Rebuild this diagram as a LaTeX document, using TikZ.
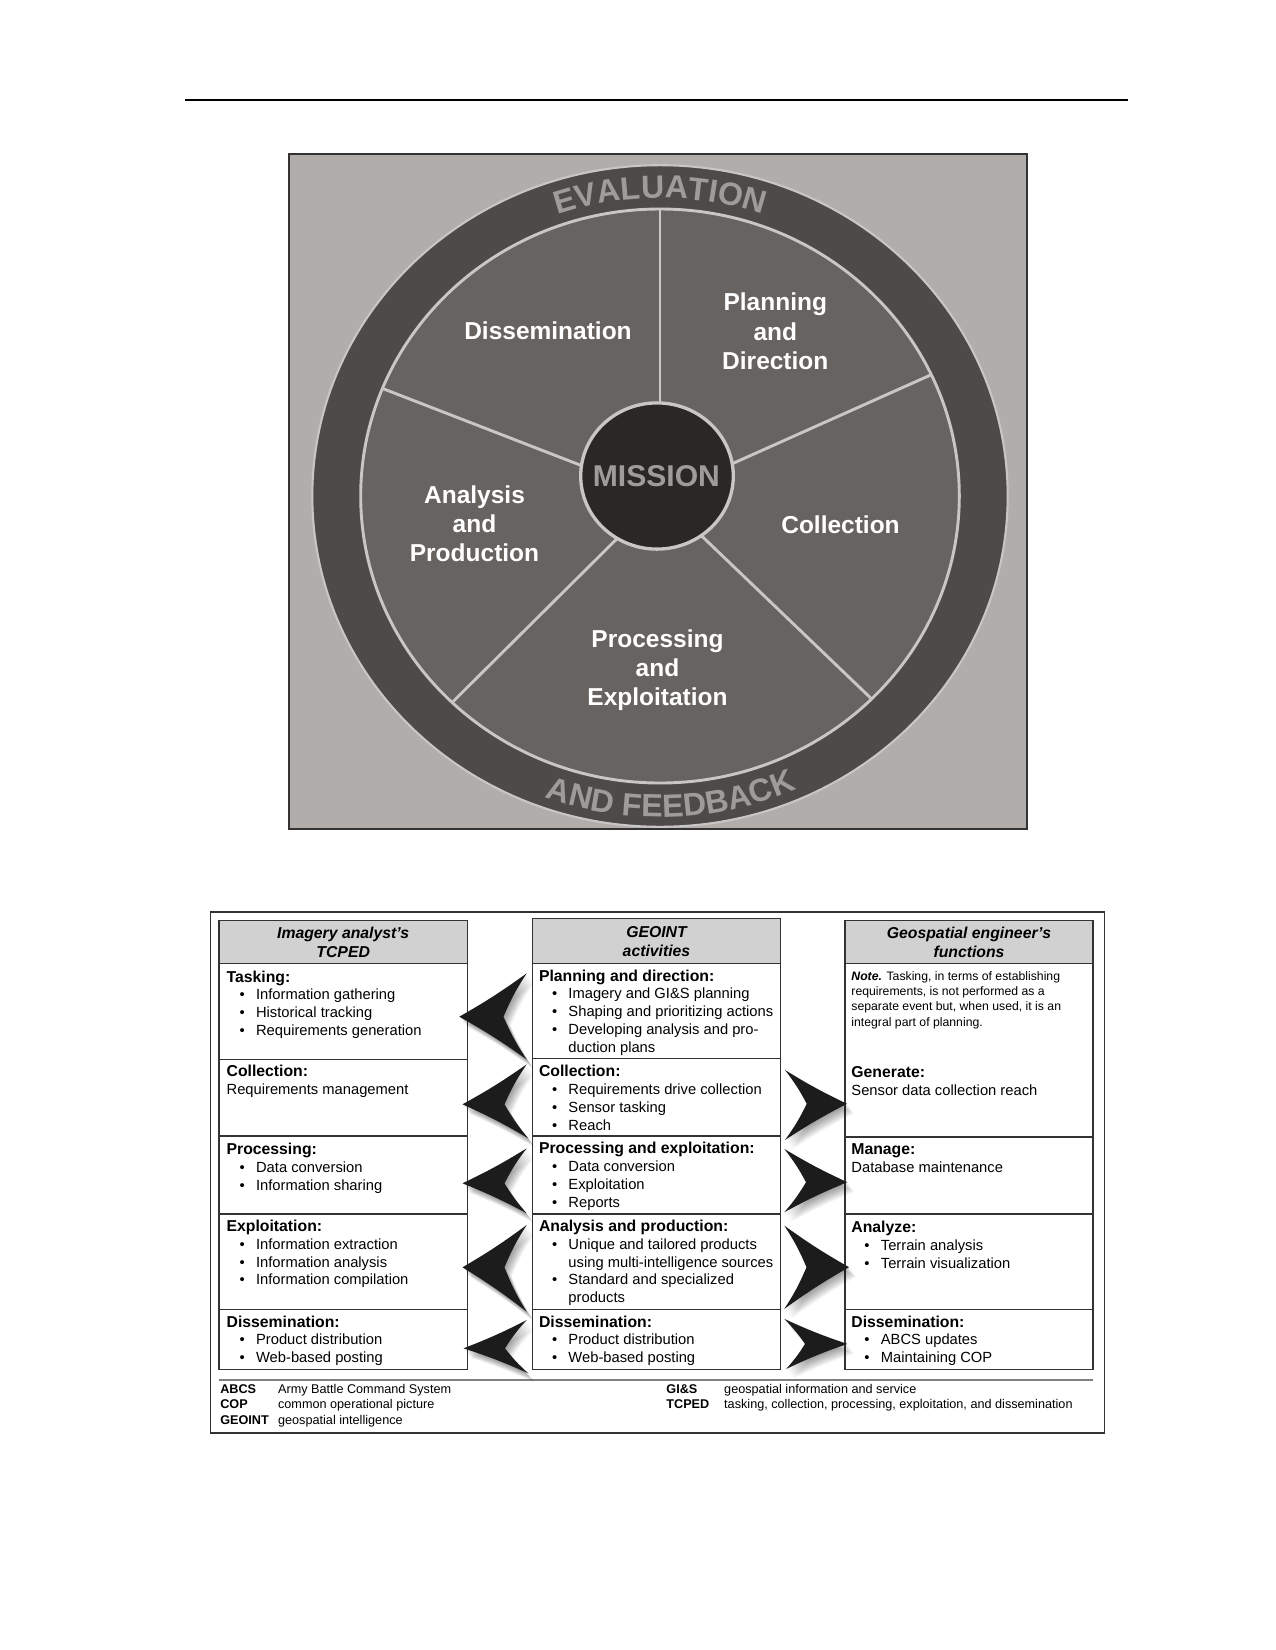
\documentclass[tikz,border=0pt]{standalone}
\usepackage{fontspec}
\setmainfont{Liberation Sans}
\usetikzlibrary{decorations.text,calc}
\definecolor{bgrect}{HTML}{B0ADAB}
\definecolor{ringc}{HTML}{4E4A49}
\definecolor{piec}{HTML}{676361}
\definecolor{missc}{HTML}{2A2727}
\definecolor{lightl}{HTML}{C9C7C6}
\definecolor{arctext}{HTML}{9E9B9A}
\definecolor{hdrfill}{HTML}{D2D1D1}
\definecolor{boxline}{HTML}{333333}
\definecolor{arrowc}{HTML}{1C1C1C}
\newcommand\arcfont{\fontsize{15.5}{16}\selectfont\bfseries}
\newcommand\ttl[1]{{\fontsize{7.6}{8.6}\selectfont\bfseries #1}}
\newcommand\bl{\hspace*{6.3pt}\makebox[7.9pt][l]{•}}
\newcommand\cont{\hspace*{14.2pt}}
\newcommand\cellbox[1]{\parbox[t]{128pt}{\fontsize{7.1}{8.6}\selectfont\raggedright #1}}
\newcommand\chev[4]{%
  \foreach \s in {1,...,12}{%
    \fill[black, opacity=0.035, shift={(0.6*\s,-0.8*\s)}] (#1) to[bend right=3] (#2) to[bend right=5] (#3) to[bend right=5] (#4) to[bend right=3] (#1) -- cycle;}
  \fill[arrowc] (#1) to[bend right=3] (#2) to[bend right=5] (#3) to[bend right=5] (#4) to[bend right=3] (#1) -- cycle;}
\tikzset{
  lab/.style={text=white, font=\fontsize{11.8}{14.1}\selectfont\bfseries, align=center, inner sep=0},
  hdr/.style={font=\fontsize{7.6}{9.3}\selectfont\bfseries\itshape, align=center, inner sep=0},
  cell/.style={anchor=base west, inner sep=0},
  leg/.style={anchor=base west, inner sep=0, font=\fontsize{6.1}{7.6}\selectfont},
  colbox/.style={draw=boxline, line width=0.75pt},
  hdrbox/.style={fill=hdrfill, draw=boxline, line width=0.75pt},
}
\begin{document}
\begin{tikzpicture}[x=0.169333mm, y=0.169333mm]
\useasboundingbox (0,0) rectangle (1275,-1650);
\fill[white] (0,0) rectangle (1275,-1650);
% top rule
\draw[line width=0.9pt] (185,-100) -- (1128,-100);
% cycle figure
\filldraw[fill=bgrect, draw=boxline, line width=0.8pt] (289,-154) rectangle (1027,-829);
\coordinate (C) at (660,-496);
\filldraw[fill=ringc, draw=lightl, line width=1pt] (C) ellipse [x radius=347.7, y radius=330.8];
\filldraw[fill=piec, draw=lightl, line width=1.4pt] (C) ellipse [x radius=299.3, y radius=287];
\foreach \a in {90,25,-45,-134,158}
  \draw[lightl, line width=1.4pt] (C) -- ($(C)+(\a:299.3 and 287)$);
\filldraw[fill=missc, draw=lightl, line width=1.6pt] (657,-476) ellipse [x radius=76.3, y radius=73.1];
\node[text=arctext, font=\fontsize{14.5}{15}\selectfont\bfseries, inner sep=0] (mission) at (656.4,-476.6) {MISSION};
\node[lab] (dis) at (548,-330.3) {Dissemination};
\node[lab] (pla) at (775.3,-331.4) {Planning\\and\\Direction};
\node[lab] (col) at (840.5,-525) {Collection};
\node[lab] (ana) at (474.5,-523.9) {Analysis\\and\\Production};
\node[lab] (pro) at (657.5,-670.1) {Processing\\and\\Exploitation};
\path[decorate, decoration={text along path, text align=center, text color=arctext, text={|\arcfont|EVALUATION}}]
  ($(C)+(130:313 and 298)$) arc[start angle=130, end angle=50, x radius=313, y radius=298];
\path[decorate, decoration={text along path, text align=center, text color=arctext, text={|\arcfont|AND FEEDBACK}}]
  ($(C)+(232:337 and 321)$) arc[start angle=232, end angle=312, x radius=337, y radius=321];

% table frame
\draw[colbox] (210.4,-912) rectangle (1104.6,-1432.8);
% left column
\draw[hdrbox] (218.8,-920.5) rectangle (467.5,-963.6);
\draw[colbox] (218.8,-963.6) rectangle (467.5,-1369.7);
\foreach \yy in {1059.4,1136.2,1214,1309.7} \draw[colbox] (218.8,-\yy) -- (467.5,-\yy);
% middle column
\draw[hdrbox] (532.5,-918.5) rectangle (780.6,-963.6);
\draw[colbox] (532.5,-963.6) rectangle (780.6,-1369.7);
\foreach \yy in {1058.3,1136.2,1214,1309.7} \draw[colbox] (532.5,-\yy) -- (780.6,-\yy);
% right column
\draw[hdrbox] (844.8,-920.5) rectangle (1093,-963.6);
\draw[colbox] (844.8,-963.6) rectangle (1093,-1369.7);
\foreach \yy in {1137.2,1214,1309.7} \draw[colbox] (844.8,-\yy) -- (1093,-\yy);
% legend rule
\draw[gray, line width=0.5pt] (218.8,-1380) -- (1093,-1380);

% chevrons pointing left
\chev{459.3,-1016.7}{526.7,-973.3}{503.5,-1016.7}{526.7,-1059.5}
\chev{462.5,-1104.3}{526.7,-1064.3}{504.5,-1104.3}{528.3,-1138.3}
\chev{462.5,-1183.3}{526.7,-1148.3}{504.5,-1183.3}{526.7,-1213.3}
\chev{462.5,-1267.3}{526.7,-1225}{504.5,-1267.3}{526.7,-1311.7}
\chev{463.5,-1348.3}{526.7,-1320}{505,-1348.3}{528.3,-1373.3}
% chevrons pointing right
\chev{847,-1103.8}{785,-1140}{806.7,-1103.8}{785,-1070}
\chev{847.3,-1182.2}{784.3,-1212.2}{806,-1182.2}{784.3,-1148.9}
\chev{849,-1267.2}{784.3,-1308.9}{806.5,-1267.2}{784.3,-1225.6}
\chev{847.3,-1343.9}{786.2,-1368.9}{805,-1343.9}{784.3,-1318.9}

% headers
\node[hdr] (h1) at (343.2,-942.5) {Imagery analyst’s\\TCPED};
\node[hdr] (h2) at (656.5,-941.5) {GEOINT\\activities};
\node[hdr] (h3) at (969,-942.5) {Geospatial engineer’s\\functions};

% left cells
\node[cell] (l1) at (226.2,-982) {\cellbox{\ttl{Tasking:}\\ \bl Information gathering\\ \bl Historical tracking\\ \bl Requirements generation}};
\node[cell] (l2) at (226.2,-1076.7) {\cellbox{\ttl{Collection:}\\ Requirements management}};
\node[cell] (l3) at (226.2,-1154.4) {\cellbox{\ttl{Processing:}\\ \bl Data conversion\\ \bl Information sharing}};
\node[cell] (l4) at (226.2,-1231.4) {\cellbox{\ttl{Exploitation:}\\ \bl Information extraction\\ \bl Information analysis\\ \bl Information compilation}};
\node[cell] (l5) at (226.2,-1327.1) {\cellbox{\ttl{Dissemination:}\\ \bl Product distribution\\ \bl Web-based posting}};
% middle cells
\node[cell] (m1) at (538.6,-981) {\cellbox{\ttl{Planning and direction:}\\ \bl Imagery and GI\&S planning\\ \bl Shaping and prioritizing actions\\ \bl Developing analysis and pro-\\ \cont duction plans}};
\node[cell] (m2) at (538.6,-1076.7) {\cellbox{\ttl{Collection:}\\ \bl Requirements drive collection\\ \bl Sensor tasking\\ \bl Reach}};
\node[cell] (m3) at (538.6,-1153.5) {\cellbox{\ttl{Processing and exploitation:}\\ \bl Data conversion\\ \bl Exploitation\\ \bl Reports}};
\node[cell] (m4) at (538.6,-1231.4) {\cellbox{\ttl{Analysis and production:}\\ \bl Unique and tailored products\\ \cont using multi-intelligence sources\\ \bl Standard and specialized\\ \cont products}};
\node[cell] (m5) at (538.6,-1327.1) {\cellbox{\ttl{Dissemination:}\\ \bl Product distribution\\ \bl Web-based posting}};
% right cells
\node[cell] (r0) at (851,-980) {\parbox[t]{128pt}{\fontsize{5.9}{7.4}\selectfont\raggedright \textbf{\textit{Note.}} Tasking, in terms of establishing\\ requirements, is not performed as a\\ separate event but, when used, it is an\\ integral part of planning.}};
\node[cell] (r1) at (851,-1077.8) {\cellbox{\ttl{Generate:}\\ Sensor data collection reach}};
\node[cell] (r2) at (851,-1154.6) {\cellbox{\ttl{Manage:}\\ Database maintenance}};
\node[cell] (r3) at (851,-1232.4) {\cellbox{\ttl{Analyze:}\\ \bl Terrain analysis\\ \bl Terrain visualization}};
\node[cell] (r4) at (851,-1327.1) {\cellbox{\ttl{Dissemination:}\\ \bl ABCS updates\\ \bl Maintaining COP}};

% legend
\node[leg] (k1) at (219.9,-1393) {\textbf{ABCS}};
\node[leg] (d1) at (277.7,-1393) {Army Battle Command System};
\node[leg] (k2) at (219.9,-1408.5) {\textbf{COP}};
\node[leg] (d2) at (277.7,-1408.5) {common operational picture};
\node[leg] (k3) at (219.9,-1424) {\textbf{GEOINT}};
\node[leg] (d3) at (277.7,-1424) {geospatial intelligence};
\node[leg] (k4) at (666,-1393) {\textbf{GI\&S}};
\node[leg] (d4) at (723.8,-1393) {geospatial information and service};
\node[leg] (k5) at (666,-1408.5) {\textbf{TCPED}};
\node[leg] (d5) at (723.8,-1408.5) {tasking, collection, processing, exploitation, and dissemination};
\end{tikzpicture}
\end{document}
